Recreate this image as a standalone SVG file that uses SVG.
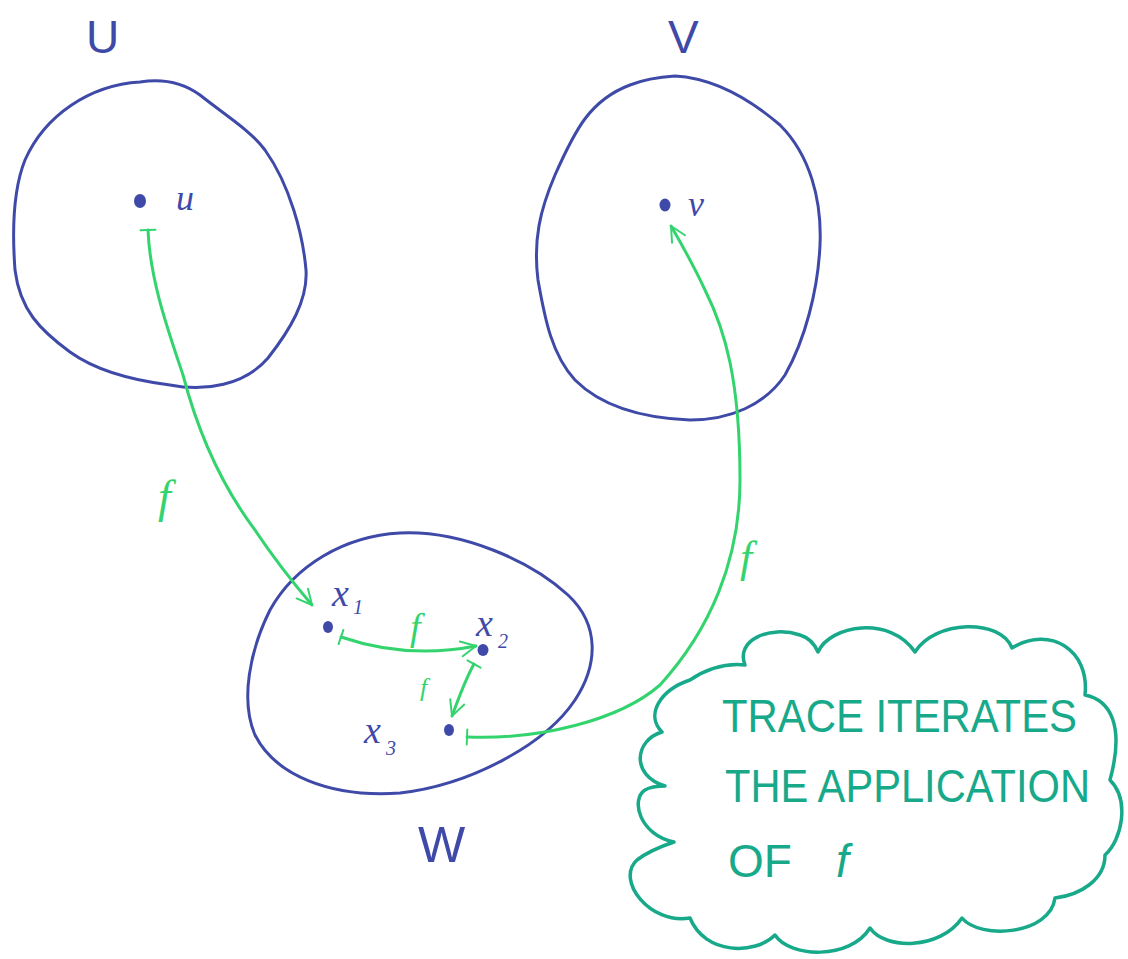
<svg xmlns="http://www.w3.org/2000/svg" width="1128" height="959" viewBox="0 0 1128 959">
<style>
.set{fill:none;stroke:#3f4aa8;stroke-width:3;stroke-linecap:round;stroke-linejoin:round}
.arr{fill:none;stroke:#33d46e;stroke-width:3;stroke-linecap:round;stroke-linejoin:round}
.cloud{fill:none;stroke:#17a98a;stroke-width:3.5;stroke-linecap:round;stroke-linejoin:round}
.lb{fill:#3f4aa8;font-family:"Liberation Serif",serif;font-style:italic}
.big{fill:#3f4aa8;font-family:"Liberation Sans",sans-serif;font-style:normal}
.lf{fill:#33d46e;font-family:"Liberation Serif",serif;font-style:italic}
.ct{fill:#17a98a;font-family:"Liberation Sans",sans-serif;font-size:46px}
.dot{fill:#3f4aa8}
</style>
<defs>
<marker id="head" viewBox="0 0 12 12" refX="11" refY="6" markerWidth="6" markerHeight="6" orient="auto" markerUnits="strokeWidth">
<path d="M1,1 L11,6 L1,11" fill="none" stroke="#33d46e" stroke-width="1.3" stroke-linecap="round" stroke-linejoin="round"/>
</marker>
<marker id="tick" viewBox="0 0 4 12" refX="2" refY="6" markerWidth="2" markerHeight="6" orient="auto" markerUnits="strokeWidth">
<path d="M2,1 L2,11" fill="none" stroke="#33d46e" stroke-width="1.3" stroke-linecap="round"/>
</marker>
</defs>

<g id="setU">
<path class="set" d="M140,82 C165,78 185,84 200,95 C225,115 250,130 265,150 C290,185 303,235 306,270 C308,300 290,330 268,358 C245,385 205,392 170,385 C130,380 95,370 70,352 C40,330 20,310 15,270 C12,230 13,190 25,160 C45,115 90,85 140,82 Z"/>
<text class="big" x="86" y="53" font-size="46">U</text>
<ellipse class="dot" cx="140" cy="201" rx="6" ry="7"/>
<text class="lb" x="176" y="210" font-size="36">u</text>
</g>

<g id="setV">
<path class="set" d="M675,76 C710,78 745,95 780,125 C810,155 822,200 820,245 C818,290 805,340 785,375 C765,405 730,420 690,420 C640,418 600,405 575,380 C552,355 545,320 538,280 C533,240 540,210 555,175 C575,130 590,100 630,85 C645,79 660,77 675,76"/>
<text class="big" x="668" y="53" font-size="46">V</text>
<ellipse class="dot" cx="665" cy="205" rx="5.5" ry="6.5"/>
<text class="lb" x="688" y="216" font-size="36">v</text>
</g>

<g id="setW">
<path class="set" d="M400,533 C460,530 530,560 568,595 C600,625 598,665 575,700 C545,745 470,785 400,793 C330,798 275,775 255,735 C240,700 250,650 270,610 C295,565 345,536 400,533 Z"/>
<text class="big" x="418" y="862" font-size="50">W</text>
</g>

<g id="x1">
<ellipse class="dot" cx="328" cy="627" rx="5" ry="6"/>
<text class="lb" x="332" y="606" font-size="38">x</text>
<text class="lb" x="353" y="614" font-size="20">1</text>
</g>
<g id="x2">
<ellipse class="dot" cx="483" cy="650" rx="5.5" ry="6"/>
<text class="lb" x="476" y="636" font-size="38">x</text>
<text class="lb" x="498" y="648" font-size="20">2</text>
</g>
<g id="x3">
<ellipse class="dot" cx="449" cy="730" rx="5" ry="6"/>
<text class="lb" x="364" y="743" font-size="38">x</text>
<text class="lb" x="386" y="755" font-size="20">3</text>
</g>

<g id="connectors">
<path class="arr" marker-start="url(#tick)" marker-end="url(#head)" d="M148,230 C150,280 168,330 183,375 C200,440 225,490 255,530 C275,560 295,585 312,605"/>
<path class="arr" marker-start="url(#tick)" marker-end="url(#head)" d="M341,637 C385,652 430,655 476,646"/>
<path class="arr" marker-start="url(#tick)" marker-end="url(#head)" d="M474,664 C465,680 458,700 452,716"/>
<path class="arr" marker-start="url(#tick)" marker-end="url(#head)" d="M467,737 C540,740 620,720 660,685 C710,630 740,560 740,480 C740,380 725,330 705,290 C692,262 682,245 671,226"/>
<text class="lf" x="158" y="512" font-size="46">f</text>
<text class="lf" x="410" y="640" font-size="38">f</text>
<text class="lf" x="420" y="696" font-size="26">f</text>
<text class="lf" x="740" y="572" font-size="44">f</text>
</g>

<g id="cloud">
<path class="cloud" d="M745,665 C735,640 770,625 800,635 C810,638 815,645 818,652 C830,625 890,615 915,652 C935,620 1000,618 1012,648 C1050,625 1090,650 1085,695 C1110,700 1125,725 1110,780 C1130,800 1122,840 1105,855 C1105,880 1080,895 1055,898 C1050,935 980,940 962,918 C940,950 885,950 870,928 C850,960 790,958 775,935 C755,955 705,955 690,918 C650,925 615,880 637,860 C650,850 665,845 674,842 C640,835 630,800 645,790 C650,787 658,786 665,786 C630,775 635,740 662,732 C645,715 660,690 690,680 C705,670 725,663 745,665 Z"/>
<text class="ct" x="722" y="732" textLength="355" lengthAdjust="spacingAndGlyphs">TRACE ITERATES</text>
<text class="ct" x="725" y="802" textLength="365" lengthAdjust="spacingAndGlyphs">THE APPLICATION</text>
<text class="ct" x="728" y="877">OF</text>
<text class="ct" x="836" y="877" font-family="Liberation Serif, serif" font-style="italic" font-size="56">f</text>
</g>
</svg>
